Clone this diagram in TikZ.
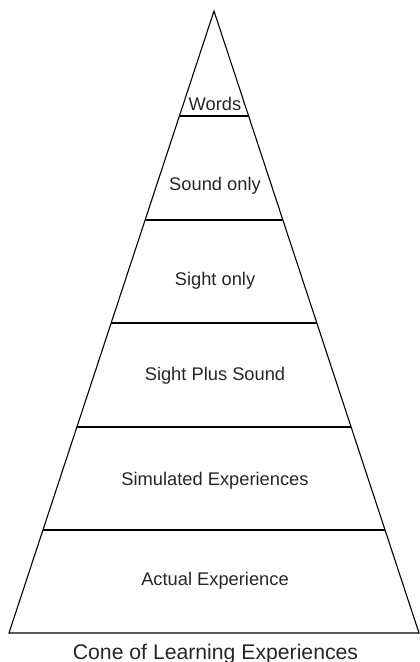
\documentclass[tikz,border=0pt]{standalone}
\usepackage{fontspec}
\setmainfont{Liberation Sans}
\usetikzlibrary{calc}
\begin{document}
\begin{tikzpicture}[x=1pt,y=-1pt,
  edge/.style={draw=black,line width=1.1pt,line join=miter},
  level/.style={draw=black,line width=1.1pt},
  lbl/.style={anchor=base,inner sep=0pt,font=\fontsize{18.3}{20}\selectfont,text=black!85},
  ttl/.style={anchor=base,inner sep=0pt,font=\fontsize{21.2}{24}\selectfont,text=black!85}]
\useasboundingbox (0,0) rectangle (420,662);
\coordinate (A) at (214,11);
\coordinate (BL) at (9,633);
\coordinate (BR) at (419,633);
\draw[edge] (BL) -- (A) -- (BR) -- cycle;
\foreach \y/\n in {116/a,220/b,323/c,427/d,530/e}{
  \pgfmathsetmacro{\t}{(\y-11)/622}
  \coordinate (L\n) at ($(A)!\t!(BL)$);
  \coordinate (R\n) at ($(A)!\t!(BR)$);
  \draw[level] (L\n) -- (R\n);
}
\node[lbl] (w) at (215,110) {Words};
\node[lbl] (so) at (215,190) {Sound only};
\node[lbl] (sio) at (215,285) {Sight only};
\node[lbl] (sps) at (215,380) {Sight Plus Sound};
\node[lbl] (sim) at (215,485) {Simulated Experiences};
\node[lbl] (act) at (215,585) {Actual Experience};
\node[ttl] (title) at (215.5,659) {Cone of Learning Experiences};
\end{tikzpicture}
\end{document}
